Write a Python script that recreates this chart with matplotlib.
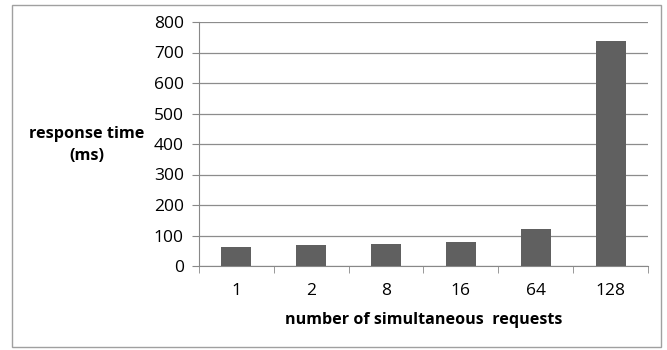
import matplotlib.pyplot as plt
from matplotlib.patches import Rectangle

categories = ['1', '2', '8', '16', '64', '128']
response_ms = [63, 68, 72, 78, 122, 738]
y_ticks = [0, 100, 200, 300, 400, 500, 600, 700, 800]

plt.rcParams['font.family'] = ['Open Sans', 'DejaVu Sans']

fig = plt.figure(figsize=(6.67, 3.5), dpi=100)
ax = fig.add_axes([199 / 667, 1 - 266 / 350, (648 - 199) / 667, (266 - 22) / 350])

# outer chart border
fig.patches.append(Rectangle((12 / 667, 1 - 347 / 350), (661 - 12) / 667, (347 - 5) / 350,
                             transform=fig.transFigure, fill=False,
                             edgecolor='#a0a0a0', linewidth=1.0))

x = range(len(categories))
ax.bar(x, response_ms, width=0.4, color='#606060', zorder=3)

ax.set_xlim(-0.5, len(categories) - 0.5)
ax.set_ylim(0, 800)
ax.set_yticks(y_ticks)
ax.set_xticks(list(x))
ax.set_xticklabels(categories)
ax.set_xticks([i + 0.5 for i in range(-1, len(categories))], minor=True)
ax.tick_params(axis='x', which='major', length=0, pad=12, labelsize=12.5)
ax.tick_params(axis='x', which='minor', length=5, color='#888888', direction='out')
ax.tick_params(axis='y', length=5, color='#888888', labelsize=12.5, pad=6)

ax.grid(axis='y', color='#8c8c8c', linewidth=0.9, zorder=0)
for s in ['top', 'right']:
    ax.spines[s].set_visible(False)
ax.spines['left'].set_color('#888888')
ax.spines['bottom'].set_color('#888888')

fig.text(87 / 667, 1 - 145 / 350, 'response time\n(ms)', ha='center', va='center',
         fontsize=11.7, fontweight='bold', linespacing=1.45)
fig.text(424 / 667, 1 - 320 / 350, 'number of simultaneous  requests', ha='center',
         va='center', fontsize=11.6, fontweight='bold')

fig.savefig('out.png', dpi=100)
